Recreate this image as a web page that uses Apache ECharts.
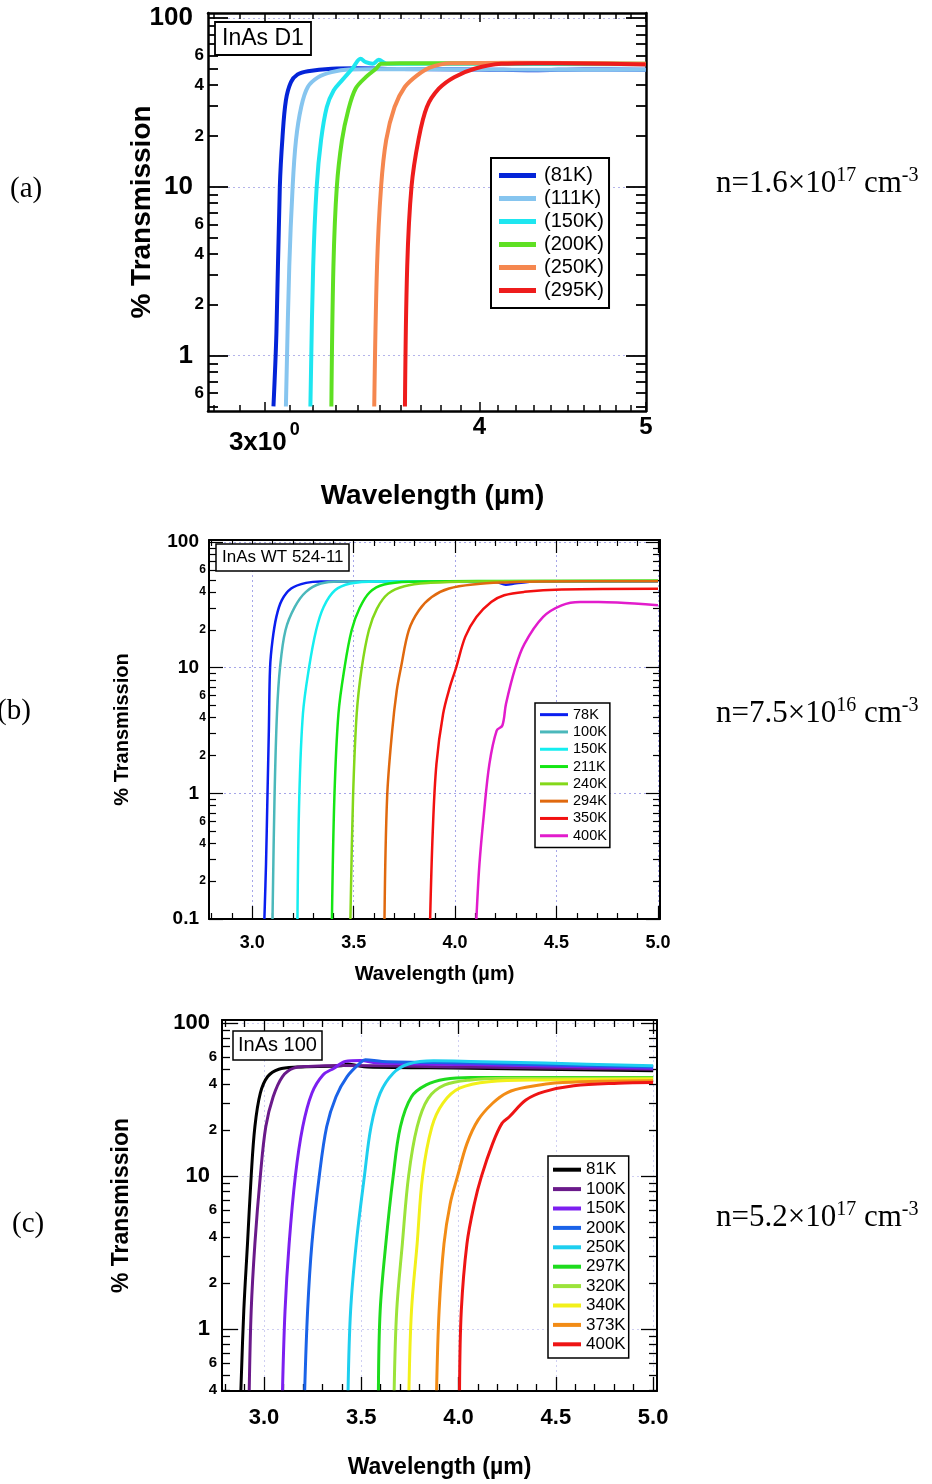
<!DOCTYPE html>
<html><head><meta charset="utf-8">
<script src="https://cdn.jsdelivr.net/npm/echarts@6/dist/echarts.min.js"></script>
<style>html,body{margin:0;padding:0;background:#fff}#c{width:932px;height:1484px}</style>
</head><body><div id="c"></div>
<script>
// ---------------- DATA ----------------
// Panel (a) InAs D1  [wavelength µm, % transmission]
const A_81K  = [[3.035,0.5],[3.047,1.36],[3.061,10],[3.072,19.7],[3.086,32.5],[3.107,41.7],[3.135,46.3],[3.178,48.4],[3.281,50.0],[3.40,50.3],[3.6,49.8],[4.0,49.6],[4.3,49.0],[4.6,49.6],[5.0,49.4]];
const A_111K = [[3.086,0.5],[3.100,3.37],[3.114,10],[3.128,18.9],[3.150,29.7],[3.178,39],[3.223,44.6],[3.281,47.8],[3.357,49.5],[3.6,49.8],[4.0,49.5],[5.0,49.3]];
const A_150K = [[3.189,0.5],[3.201,3.37],[3.216,10],[3.235,18.9],[3.260,29.7],[3.290,37.2],[3.327,42.7],[3.373,50],[3.411,57.3],[3.435,54.7],[3.467,53.5],[3.495,56.5],[3.53,53.8],[3.6,53.5],[4.0,53.5],[5.0,53.2]];
const A_200K = [[3.280,0.5],[3.289,3.37],[3.304,10],[3.327,18.9],[3.355,28.4],[3.388,38.1],[3.435,44.6],[3.482,50],[3.506,53.5],[3.594,54],[4.0,54],[5.0,53.5]];
const A_250K = [[3.474,0.5],[3.487,3.37],[3.506,10],[3.530,18.9],[3.570,29.7],[3.619,39],[3.678,45.6],[3.745,51],[3.849,54],[4.2,54.2],[5.0,53.5]];
const A_295K = [[3.620,0.5],[3.631,3.37],[3.652,10],[3.686,18.9],[3.728,29.7],[3.788,38.1],[3.867,44.6],[3.974,50],[4.121,53.5],[4.3,54],[4.6,53.8],[5.0,53]];
const A_NAMES  = ['(81K)','(111K)','(150K)','(200K)','(250K)','(295K)'];
const A_COLORS = ['#0424d8','#86c5ef','#1ee6f0','#5fe023','#f5874f','#ee1c1c'];

// Panel (b) InAs WT 524-11
const B_78K  = [[3.060,0.1],[3.068,0.273],[3.075,0.93],[3.082,3.16],[3.088,10],[3.100,16.5],[3.119,25.4],[3.146,34.5],[3.192,42.7],[3.265,47.4],[3.338,48.7],[3.8,48.5],[4.2,48.2],[4.25,45.8],[4.3,47],[4.4,48.5],[5.0,48.7]];
const B_100K = [[3.100,0.1],[3.110,0.93],[3.122,4.3],[3.137,10],[3.164,19.9],[3.210,30.5],[3.265,40.2],[3.338,46.8],[3.429,48.7],[5.0,48.9]];
const B_150K = [[3.223,0.1],[3.232,0.93],[3.250,4.3],[3.280,10],[3.315,19.9],[3.352,30.5],[3.408,41.4],[3.484,46.8],[3.612,48.7],[5.0,49]];
const B_211K = [[3.393,0.1],[3.405,0.93],[3.425,4.3],[3.455,10],[3.490,19.9],[3.530,30],[3.580,40],[3.650,46],[3.780,48.3],[4.2,49],[5.0,49.2]];
const B_240K = [[3.484,0.1],[3.497,0.93],[3.515,4.3],[3.540,10],[3.575,19.9],[3.615,29.6],[3.670,38.9],[3.750,44.6],[3.880,47.4],[4.070,48.7],[5.0,49.2]];
const B_294K = [[3.652,0.1],[3.665,0.93],[3.690,3.16],[3.712,6.5],[3.733,10],[3.772,19.9],[3.822,28.7],[3.885,36.6],[3.970,42.7],[4.100,46.2],[4.250,47.8],[4.430,48.7],[5.0,48.9]];
const B_350K = [[3.877,0.1],[3.890,0.5],[3.908,1.71],[3.941,4.3],[3.974,7.0],[4.005,10],[4.050,17.6],[4.105,25.4],[4.178,33.4],[4.242,37.8],[4.342,40.2],[4.525,41.9],[5.0,42.5]];
const B_400K = [[4.105,0.1],[4.120,0.273],[4.142,0.684],[4.169,1.71],[4.205,3.16],[4.233,3.47],[4.251,5.16],[4.297,10],[4.342,15.5],[4.434,25.4],[4.525,31.4],[4.616,33.4],[4.708,33.4],[4.799,33.0],[5.0,31.4]];
const B_NAMES  = ['78K','100K','150K','211K','240K','294K','350K','400K'];
const B_COLORS = ['#0a1ef0','#4bb8bb','#15eef0','#14e614','#84d81a','#e0690e','#f21010','#e21ccc'];

// Panel (c) InAs 100
const C_81K  = [[2.881,0.4],[2.896,1.32],[2.915,3.61],[2.934,10],[2.953,21],[2.981,34.8],[3.019,44.7],[3.076,49.9],[3.171,51.5],[3.398,52.5],[3.43,54],[3.47,53],[3.531,51.5],[4.062,50.7],[5.0,48.7]];
const C_100K = [[2.924,0.4],[2.934,1.32],[2.953,3.61],[2.981,10],[3.009,21],[3.047,33],[3.095,44.7],[3.152,50.7],[3.227,52],[3.398,52.7],[4.062,51.5],[5.0,49.9]];
const C_150K = [[3.095,0.4],[3.108,1.32],[3.129,3.61],[3.161,10],[3.199,21],[3.246,34.8],[3.303,45.8],[3.360,50.7],[3.417,56.1],[3.493,56.9],[3.588,54.7],[4.062,53.5],[5.0,50.7]];
const C_200K = [[3.209,0.4],[3.224,1.32],[3.246,3.61],[3.284,10],[3.322,21],[3.370,33],[3.427,44.7],[3.493,54.7],[3.521,57.5],[3.607,56.1],[4.062,54.7],[5.0,51.5]];
const C_250K = [[3.432,0.4],[3.445,1.32],[3.474,3.61],[3.516,10],[3.550,21],[3.597,34.8],[3.664,47],[3.739,53.8],[3.872,56.6],[4.062,56.1],[4.441,54.7],[5.0,52.5]];
const C_297K = [[3.588,0.4],[3.597,1.32],[3.626,3.61],[3.664,10],[3.701,21],[3.758,33],[3.834,39.4],[3.929,42.9],[4.062,44],[5.0,44]];
const C_320K = [[3.669,0.4],[3.682,1.32],[3.711,3.61],[3.743,10],[3.787,21],[3.844,32.2],[3.929,39.4],[4.062,42.5],[4.251,43.5],[5.0,43.7]];
const C_340K = [[3.745,0.4],[3.758,1.32],[3.787,3.61],[3.815,10],[3.863,21],[3.919,29.9],[4.005,37.5],[4.156,41.4],[4.441,42.5],[5.0,43]];
const C_373K = [[3.887,0.4],[3.900,1.32],[3.925,3.61],[3.957,6.6],[3.995,10],[4.043,16.3],[4.100,23.2],[4.175,29.9],[4.251,35.1],[4.346,38],[4.536,40.8],[5.0,41.9]];
const C_400K = [[4.005,0.4],[4.014,1.32],[4.043,3.61],[4.081,6.6],[4.118,10],[4.175,16.3],[4.223,22.1],[4.261,24.4],[4.346,31.4],[4.441,35.6],[4.592,38.9],[4.820,40.4],[5.0,40.8]];
const C_NAMES  = ['81K','100K','150K','200K','250K','297K','320K','340K','373K','400K'];
const C_COLORS = ['#000000','#6a1a8a','#7c1ff0','#1a63e8','#1ecfef','#1edb1e','#9be33a','#f2f01a','#f28c16','#ee1414'];

// Tick values / labels
const A_X_MAJOR = [3, 4, 5];
const A_X_MINOR = [2.8,2.9,3.1,3.2,3.3,3.4,3.5,3.6,3.7,3.8,3.9,4.1,4.2,4.3,4.4,4.5,4.6,4.7,4.8,4.9];
const A_X_LABELS = [4, 5];
const A_X_LABEL_3 = [3];
const A_Y_MAJOR = [1, 10, 100];
const A_Y_MINOR = [0.5,0.6,0.7,0.8,0.9,2,3,4,5,6,7,8,9,20,30,40,50,60,70,80,90];
const A_Y_MINOR_LABELS = [0.6, 2, 4, 6, 20, 40, 60];

const BC_X_MAJOR = [3.0, 3.5, 4.0, 4.5, 5.0];
const BC_X_MINOR = [2.8,2.9,3.1,3.2,3.3,3.4,3.6,3.7,3.8,3.9,4.1,4.2,4.3,4.4,4.6,4.7,4.8,4.9];
const BC_X_LABELS = [3.0, 3.5, 4.0, 4.5, 5.0];
const B_Y_MAJOR = [0.1, 1, 10, 100];
const B_Y_MINOR = [0.2,0.3,0.4,0.5,0.6,0.7,0.8,0.9,2,3,4,5,6,7,8,9,20,30,40,50,60,70,80,90];
const B_Y_MINOR_LABELS = [0.2,0.4,0.6,2,4,6,20,40,60];
const C_Y_MAJOR = [1, 10, 100];
const C_Y_MINOR = [0.4,0.5,0.6,0.7,0.8,0.9,2,3,4,5,6,7,8,9,20,30,40,50,60,70,80,90];
const C_Y_MINOR_LABELS = [0.4,0.6,2,4,6,20,40,60];

// ---------------- BUILD ----------------
const SANS = 'Liberation Sans, Arial, sans-serif';
const SERIF = 'Liberation Serif, Times New Roman, serif';

function mant(v) {
  const e = Math.floor(Math.log10(v) + 1e-9);
  return String(Math.round(v / Math.pow(10, e)));
}

function axisSet(dim, g, c) {
  const lineOn = {show: true, onZero: false, lineStyle: {color: '#000', width: c.lineW}};
  const tick = (vals, len) => ({show: true, inside: true, length: len, customValues: vals, lineStyle: {color: '#000', width: c.tickW}});
  const base = {type: c.type, gridIndex: g, min: c.min, max: c.max, silent: true,
    splitLine: {show: false}, axisLabel: {show: false}, axisLine: {show: false}, axisTick: {show: false}};
  const pos = dim === 'x' ? ['bottom', 'top'] : ['left', 'right'];
  const main = Object.assign({}, base, {
    position: pos[0], axisLine: lineOn, axisTick: tick(c.major, c.majorLen),
    axisLabel: {show: true, customValues: c.labels, margin: c.labelMargin, color: '#000',
      fontFamily: SANS, fontWeight: 'bold', fontSize: c.labelSize, lineHeight: c.labelSize, formatter: c.fmt},
    splitLine: c.grid ? {show: true, lineStyle: {color: c.grid, type: [2, 3], width: 1}} : {show: false},
    name: c.name, nameLocation: 'middle', nameGap: c.nameGap, nameMoveOverlap: false,
    nameTextStyle: {fontFamily: SANS, fontWeight: 'bold', fontSize: c.nameSize, color: '#000', padding: c.namePad || 0}
  });
  const minor = Object.assign({}, base, {position: pos[0], axisTick: tick(c.minor, c.minorLen),
    axisLabel: c.minorLabels ? {show: true, customValues: c.minorLabels, margin: c.minorMargin, color: '#000',
      fontFamily: SANS, fontWeight: 'bold', fontSize: c.minorSize, lineHeight: c.minorSize, formatter: mant} : {show: false}});
  const mainOpp = Object.assign({}, base, {position: pos[1], axisLine: lineOn, axisTick: tick(c.major, c.majorLen)});
  const minorOpp = Object.assign({}, base, {position: pos[1], axisTick: tick(c.minor, c.minorLen)});
  return [main, minor, mainOpp, minorOpp];
}

// extra label-only axis (for the "3x10^0" label of panel a)
function labelAxis(g, c) {
  return {type: c.type, gridIndex: g, min: c.min, max: c.max, position: 'bottom', silent: true,
    axisLine: {show: false}, axisTick: {show: false}, splitLine: {show: false},
    axisLabel: {show: true, customValues: c.values, margin: c.margin, color: '#000', fontFamily: SANS,
      fontWeight: 'bold', fontSize: c.size, lineHeight: c.size, padding: c.padding, formatter: c.fmt}};
}

const fmt1 = v => Number(v).toFixed(1);

const xAxes = [].concat(
  axisSet('x', 0, {type: 'log', min: 2.78, max: 5.001, major: A_X_MAJOR, majorLen: 9, minor: A_X_MINOR, minorLen: 6,
    labels: A_X_LABELS, labelMargin: 4, labelSize: 24, fmt: v => String(Math.round(v)), lineW: 2.5, tickW: 1.5, grid: false,
    name: 'Wavelength (µm)', nameGap: 71, nameSize: 28, namePad: [0, 0, 0, 11]}),
  axisSet('x', 1, {type: 'value', min: 2.787, max: 5.01, major: BC_X_MAJOR, majorLen: 13, minor: BC_X_MINOR, minorLen: 6,
    labels: BC_X_LABELS, labelMargin: 15, labelSize: 18, fmt: fmt1, lineW: 2, tickW: 1.2, grid: '#a6a6e8',
    name: 'Wavelength (µm)', nameGap: 45, nameSize: 20}),
  axisSet('x', 2, {type: 'value', min: 2.784, max: 5.02, major: BC_X_MAJOR, majorLen: 14, minor: BC_X_MINOR, minorLen: 7,
    labels: BC_X_LABELS, labelMargin: 16, labelSize: 22, fmt: fmt1, lineW: 2, tickW: 1.3, grid: '#cfcff2',
    name: 'Wavelength (µm)', nameGap: 65, nameSize: 23}),
  [labelAxis(0, {type: 'log', min: 2.78, max: 5.001, values: A_X_LABEL_3, margin: 19, size: 26, padding: [0, 14, 0, 0], fmt: () => '3x10'}),
   labelAxis(0, {type: 'log', min: 2.78, max: 5.001, values: A_X_LABEL_3, margin: 10, size: 18, padding: [0, 0, 0, 60], fmt: () => '0'})]
);

const yAxes = [].concat(
  axisSet('y', 0, {type: 'log', min: 0.47, max: 107, major: A_Y_MAJOR, majorLen: 20, minor: A_Y_MINOR, minorLen: 10,
    labels: A_Y_MAJOR, labelMargin: 15, labelSize: 26, fmt: v => String(v), minorLabels: A_Y_MINOR_LABELS, minorMargin: 4, minorSize: 17,
    lineW: 2.5, tickW: 1.8, grid: '#b4b4ea', name: '% Transmission', nameGap: 52, nameSize: 28}),
  axisSet('y', 1, {type: 'log', min: 0.0999, max: 104, major: B_Y_MAJOR, majorLen: 14, minor: B_Y_MINOR, minorLen: 7,
    labels: B_Y_MAJOR, labelMargin: 10, labelSize: 19, fmt: v => String(v), minorLabels: B_Y_MINOR_LABELS, minorMargin: 3, minorSize: 12,
    lineW: 2, tickW: 1.2, grid: '#a6a6e8', name: '% Transmission', nameGap: 77, nameSize: 20}),
  axisSet('y', 2, {type: 'log', min: 0.395, max: 104.6, major: C_Y_MAJOR, majorLen: 16, minor: C_Y_MINOR, minorLen: 8,
    labels: C_Y_MAJOR, labelMargin: 12, labelSize: 22, fmt: v => String(v), minorLabels: C_Y_MINOR_LABELS, minorMargin: 5, minorSize: 15,
    lineW: 2, tickW: 1.3, grid: '#cfcff2', name: '% Transmission', nameGap: 89, nameSize: 23})
);

const series = [];
function addSeries(prefix, g, names, datas, colors, width) {
  names.forEach((n, i) => {
    series.push({
      type: 'line', name: prefix + n, xAxisIndex: g * 4, yAxisIndex: g * 4,
      data: datas[i], showSymbol: false, symbol: 'none', smooth: 0.35,
      lineStyle: {color: colors[i], width: width}, itemStyle: {color: colors[i]},
      emphasis: {disabled: true}, animation: false, z: 3
    });
  });
}
addSeries('a:', 0, A_NAMES, [A_81K, A_111K, A_150K, A_200K, A_250K, A_295K], A_COLORS, 4);
addSeries('b:', 1, B_NAMES, [B_78K, B_100K, B_150K, B_211K, B_240K, B_294K, B_350K, B_400K], B_COLORS, 2.5);
addSeries('c:', 2, C_NAMES, [C_81K, C_100K, C_150K, C_200K, C_250K, C_297K, C_320K, C_340K, C_373K, C_400K], C_COLORS, 3);

function legend(prefix, names, o) {
  return {
    orient: 'vertical', left: o.left, top: o.top, padding: o.padding, itemGap: 0,
    itemWidth: o.iw, itemHeight: o.ih, icon: 'rect', borderColor: '#000', borderWidth: o.bw,
    backgroundColor: '#fff', selectedMode: false, z: 10,
    data: names.map(n => prefix + n), formatter: n => n.slice(2),
    textStyle: {fontSize: o.fs, lineHeight: o.lh, fontFamily: SANS, color: '#000', padding: o.tp || 0}
  };
}

function boxTitle(text, left, top, fs, lh, pad, bw) {
  return {text: text, left: left, top: top, padding: pad, borderColor: '#000', borderWidth: bw,
    backgroundColor: '#fff', z: 10,
    textStyle: {fontFamily: SANS, fontWeight: 'normal', fontSize: fs, lineHeight: lh, color: '#000'}};
}
function plainTitle(text, left, top) {
  return {text: text, left: left, top: top, padding: 0,
    textStyle: {fontFamily: SERIF, fontWeight: 'normal', fontSize: 29, lineHeight: 30, color: '#000'}};
}
const supRich = {
  m: {fontFamily: SERIF, fontSize: 31, lineHeight: 36, color: '#000', fontWeight: 'normal'},
  s: {fontFamily: SERIF, fontSize: 20, lineHeight: 20, verticalAlign: 'top', color: '#000', fontWeight: 'normal'}
};
function densTitle(mant, exp, top) {
  return {text: '{m|n=' + mant + '×10}{s|' + exp + '}{m| cm}{s|-3}', left: 716, top: top, padding: 0,
    textStyle: {rich: supRich}};
}

const option = {
  backgroundColor: '#fff',
  animation: false,
  grid: [
    {left: 208, top: 13, width: 438, height: 398, outerBoundsMode: 'none'},
    {left: 209, top: 540, width: 451, height: 379, outerBoundsMode: 'none'},
    {left: 222, top: 1020, width: 435, height: 371, outerBoundsMode: 'none'}
  ],
  xAxis: xAxes,
  yAxis: yAxes,
  legend: [
    legend('a:', A_NAMES, {left: 491, top: 158, padding: [6, 5, 6, 8], iw: 37, ih: 5, bw: 2, fs: 20, lh: 23, tp: [0, 0, 0, 3]}),
    legend('b:', B_NAMES, {left: 535, top: 703, padding: [3, 3, 3, 5], iw: 28, ih: 3, bw: 1.5, fs: 14.5, lh: 17.3}),
    legend('c:', C_NAMES, {left: 548, top: 1156, padding: [4, 3, 4, 5], iw: 28, ih: 4, bw: 1.5, fs: 17, lh: 19.4})
  ],
  title: [
    boxTitle('InAs D1', 215, 22, 23, 26, [4, 7, 3, 7], 1.8),
    boxTitle('InAs WT 524-11', 216, 544, 17, 21, [3, 6, 3, 6], 1.5),
    boxTitle('InAs 100', 233, 1031, 20, 23, [3, 5, 3, 5], 1.5),
    plainTitle('(a)', 10, 174),
    plainTitle('(b)', -3, 696),
    plainTitle('(c)', 12, 1209),
    densTitle('1.6', '17', 166),
    densTitle('7.5', '16', 696),
    densTitle('5.2', '17', 1200)
  ],
  series: series
};

const chart = echarts.init(document.getElementById('c'), null, {renderer: 'canvas'});
chart.setOption(option);
</script></body></html>
